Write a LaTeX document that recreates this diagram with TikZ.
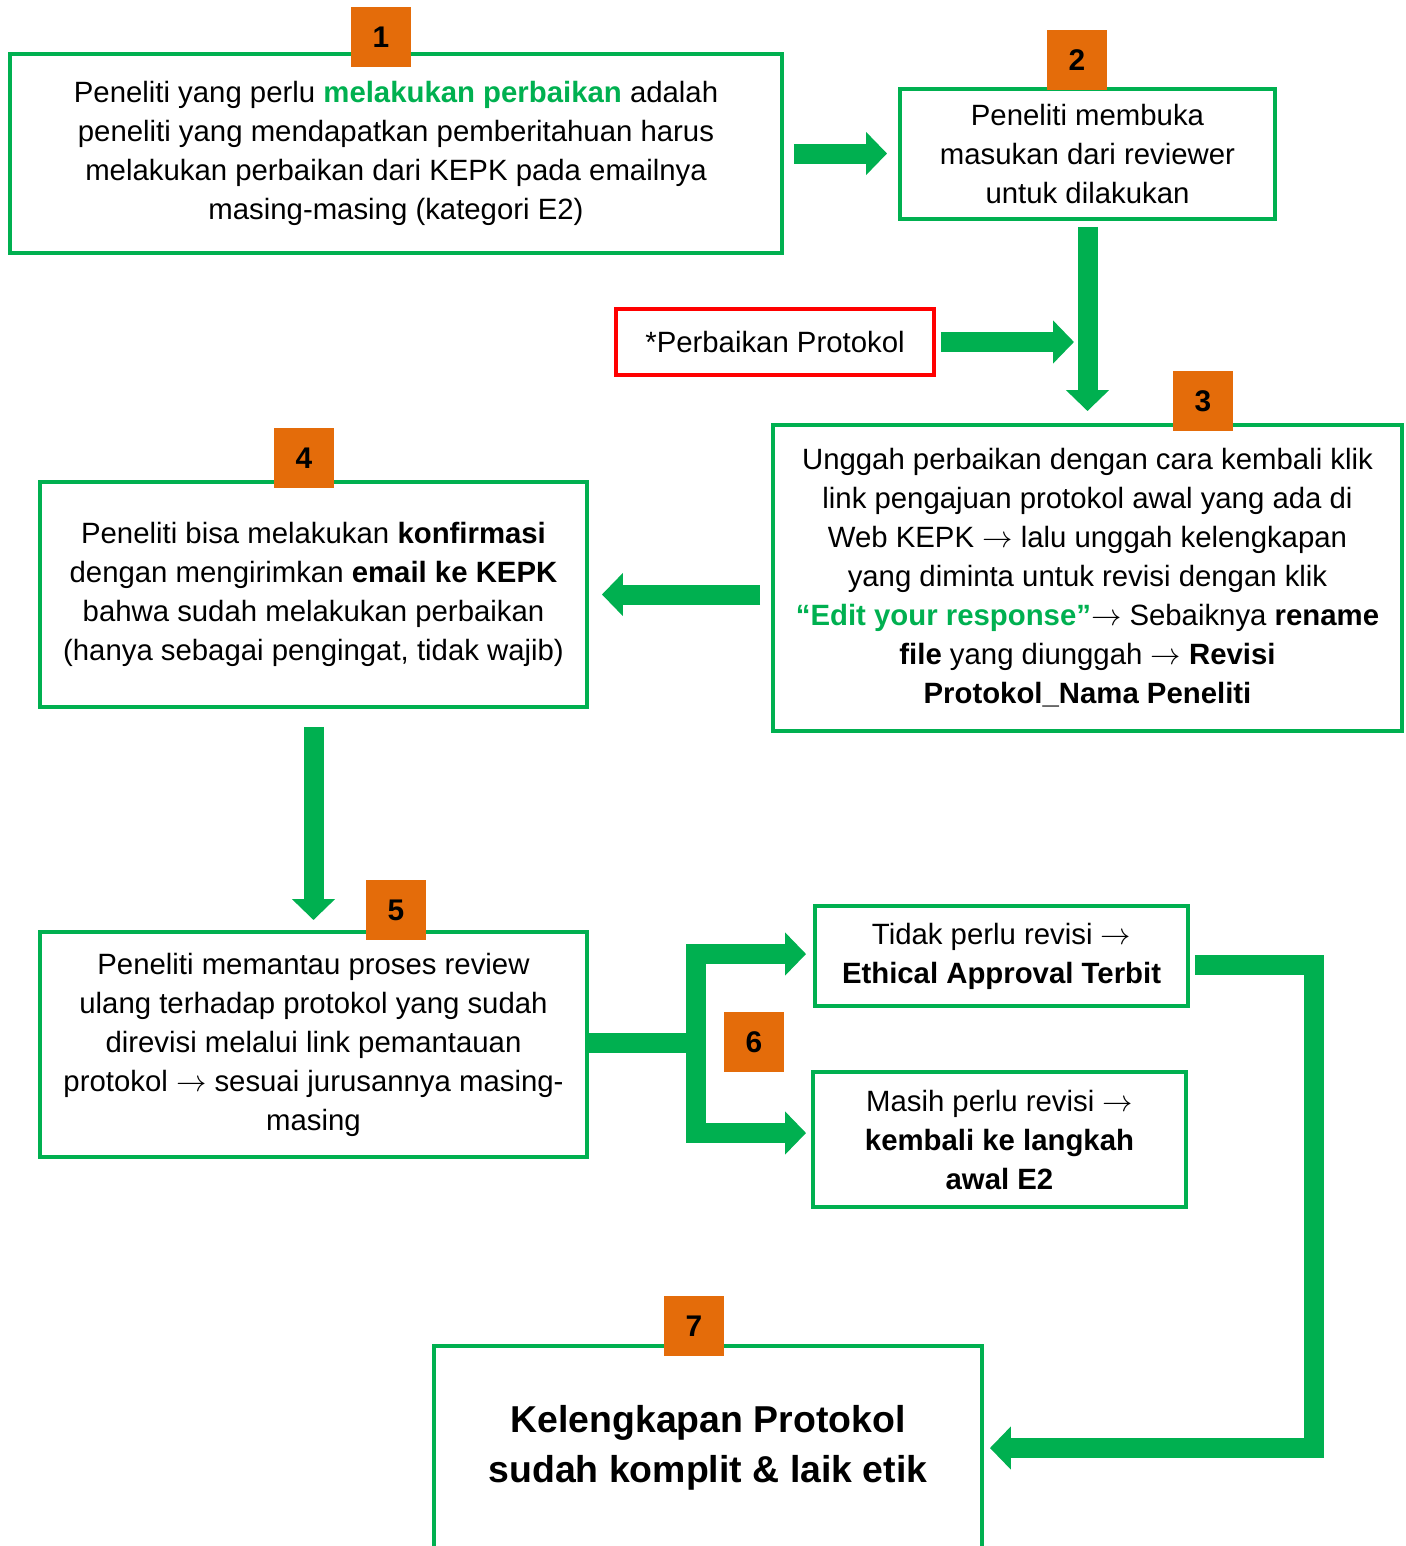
\documentclass[tikz,border=0pt]{standalone}
\usepackage{fontspec}
\setmainfont{Liberation Sans}
\usepackage{tikz}
\usetikzlibrary{calc}
\usetikzlibrary{arrows.meta}
\definecolor{kgreen}{HTML}{00B050}
\definecolor{korange}{HTML}{E46C0A}
\definecolor{kred}{HTML}{FF0000}
\newcommand{\arr}{$\rightarrow$}
\tikzstyle{box} = [rectangle, 
draw=kgreen, 
line width=0.08cm, 
align=center, 
font=\fontsize{16.7}{22.2}\selectfont]
\tikzstyle{redbox} = [box, draw=kred]
\tikzstyle{badge} = [rectangle, 
fill=korange, 
minimum width=1.2cm, 
minimum height=1.2cm, 
font=\fontsize{17}{20}\selectfont\bfseries]
\tikzstyle{thickline} = [draw=kgreen, line width=0.4cm]
\tikzstyle{arrow} = [thickline, -{Triangle[width=0.84cm, length=0.42cm]}]

\begin{document}
\begin{tikzpicture}[x=0.02cm, y=-0.02cm]
			\useasboundingbox (0,0) rectangle (1406,1546);
			
			\node (b1)[box, minimum width=15.44cm, minimum height=3.98cm] at (396,153.5) {Peneliti yang perlu \textcolor{kgreen}{\textbf{melakukan perbaikan}} adalah\\ peneliti yang mendapatkan pemberitahuan harus\\ melakukan perbaikan dari KEPK pada emailnya\\ masing-masing (kategori E2)};
			\node (b2)[box, minimum width=7.5cm, minimum height=2.6cm] at (1087.5,154) {Peneliti membuka\\ masukan dari reviewer\\ untuk dilakukan};
			\node (red)[redbox, minimum width=6.36cm, minimum height=1.32cm] at (775,342) {*Perbaikan Protokol};
			\node (b3)[box, minimum width=12.58cm, minimum height=6.12cm] at (1087.5,578) {Unggah perbaikan dengan cara kembali klik\\ link pengajuan protokol awal yang ada di\\ Web KEPK \arr{} lalu unggah kelengkapan\\ yang diminta untuk revisi dengan klik\\ \textcolor{kgreen}{\textbf{“Edit your response”}}\arr{} Sebaiknya \textbf{rename}\\ \textbf{file} yang diunggah \arr{} \textbf{Revisi}\\ \textbf{Protokol\_Nama Peneliti}};
			\node (b4)[box, minimum width=10.94cm, minimum height=4.5cm] at (313.5,594.5) {Peneliti bisa melakukan \textbf{konfirmasi}\\ dengan mengirimkan \textbf{email ke KEPK}\\ bahwa sudah melakukan perbaikan\\ (hanya sebagai pengingat, tidak wajib)};
			\node (b5)[box, minimum width=10.94cm, minimum height=4.5cm] at (313.5,1044.5) {Peneliti memantau proses review\\ ulang terhadap protokol yang sudah\\ direvisi melalui link pemantauan\\ protokol \arr{} sesuai jurusannya masing-\\ masing};
			\node (tidak)[box, minimum width=7.46cm, minimum height=2cm] at (1001.5,956) {Tidak perlu revisi \arr\\ \textbf{Ethical Approval Terbit}};
			\node (masih)[box, minimum width=7.46cm, minimum height=2.7cm] at (999.5,1139.5) {Masih perlu revisi \arr\\ \textbf{kembali ke langkah}\\ \textbf{awal E2}};
			\node (b7)[box, minimum width=10.96cm, minimum height=4.08cm, font=\fontsize{21.3}{28.5}\selectfont\bfseries] at (708,1448) {Kelengkapan Protokol\\ sudah komplit \& laik etik};
			
			\draw [arrow, shorten <=0.2cm, shorten >=0.22cm] (b1.east) -- (b1.east -| b2.west);
			\draw [arrow, shorten <=0.12cm, shorten >=0.24cm] (b2.south) -- (b2.south |- b3.north);
			\coordinate (join) at (b2.south |- red.east);
			\draw [arrow, shorten <=0.1cm, shorten >=0.27cm] (red.east) -- (join);
			\draw [arrow, shorten <=0.22cm, shorten >=0.26cm] (b3.west |- b4.east) -- (b4.east);
			\draw [arrow, shorten <=0.36cm, shorten >=0.2cm] (b4.south) -- (b5.north);
			
			\coordinate (fork) at (696,1043);
			\draw [thickline] (b5.east |- fork) -- (fork);
			\draw [arrow, shorten >=0.14cm] (fork) |- ([yshift=0.04cm]tidak.west);
			\draw [arrow, shorten >=0.1cm] (fork) |- ([yshift=0.13cm]masih.west);
			
			\coordinate (turn) at (1314,1448);
			\draw [arrow, shorten <=0.1cm, shorten >=0.12cm] ([yshift=-0.17cm]tidak.east) -| (turn) -- (b7.east);
			
			\node (n1)[badge] at ($(b1.north)+(-15,-15)$) {1};
			\node (n2)[badge] at ($(b2.north)+(-10.5,-27)$) {2};
			\node (n3)[badge] at ($(b3.north)+(115.5,-22)$) {3};
			\node (n4)[badge] at ($(b4.north)+(-9.5,-22)$) {4};
			\node (n5)[badge] at ($(b5.north)+(82.5,-20)$) {5};
			\node (n6)[badge] at (754,1042) {6};
			\node (n7)[badge] at ($(b7.north)+(-14,-18)$) {7};
		\end{tikzpicture}
\end{document}
